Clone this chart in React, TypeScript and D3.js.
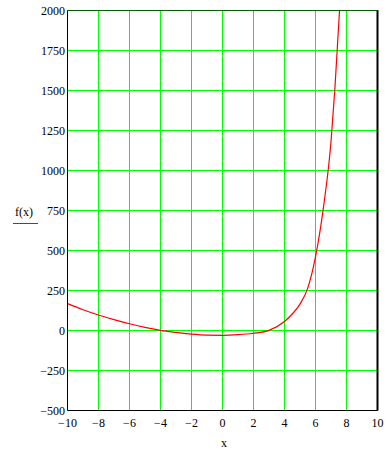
import React from "react";
import * as d3 from "d3";

const xValues = [-10, -9, -8, -7, -6, -5, -4, -3, -2, -1, 0, 1, 2, 3, 4, 4.5, 5, 5.5, 6, 6.5, 7, 7.25, 7.55];
const fValues = [168, 130, 97, 68, 42, 20, 1, -12, -23, -29, -30, -26, -17, 1, 56, 103, 165, 265, 460, 760, 1180, 1510, 2000];
const xTicks = [-10, -8, -6, -4, -2, 0, 2, 4, 6, 8, 10];
const yTicks = [-500, -250, 0, 250, 500, 750, 1000, 1250, 1500, 1750, 2000];

const W = 391, H = 456;
const L = 67.5, R = 377.5, T = 10.5, B = 410.5;

function fmt(v: number) {
  return v < 0 ? "\u2212" + Math.abs(v) : String(v);
}

export default function App() {
  const x = d3.scaleLinear().domain([-10, 10]).range([L, R]);
  const y = d3.scaleLinear().domain([-500, 2000]).range([B, T]);
  const pts: [number, number][] = xValues.map((v, i) => [v, fValues[i]]);
  const line = d3.line<[number, number]>().x(d => x(d[0])).y(d => y(d[1])).curve(d3.curveMonotoneX);
  const font = "'Liberation Serif', 'Times New Roman', serif";
  return (
    <svg width={W} height={H} style={{ position: "absolute", left: 0, top: 0, background: "#fff" }}>
      <defs>
        <clipPath id="plot"><rect x={L} y={T - 1} width={R - L} height={B - T + 1} /></clipPath>
      </defs>
      <rect x={0} y={0} width={W} height={H} fill="#fff" />
      {xTicks.map(t => (
        <line key={"gx" + t} x1={x(t)} x2={x(t)} y1={T} y2={B} stroke="#00ff00" strokeWidth={1} />
      ))}
      {yTicks.map(t => (
        <line key={"gy" + t} x1={L} x2={R} y1={y(t)} y2={y(t)} stroke="#00ff00" strokeWidth={1} />
      ))}
      <path d={line(pts) || ""} fill="none" stroke="#ff0000" strokeWidth={1.2} clipPath="url(#plot)" />
      <line x1={L} x2={L} y1={T} y2={B} stroke="#000" strokeWidth={1} />
      <line x1={L} x2={R} y1={B} y2={B} stroke="#000" strokeWidth={1} />
      <line x1={R} x2={R} y1={T} y2={B} stroke="#000" strokeWidth={2} />
      <line x1={L} x2={R + 1} y1={T} y2={T} stroke="#000" strokeWidth={1} opacity={0.6} />
      {yTicks.map(t => (
        <text key={"ty" + t} x={65} y={y(t) + 4.5} textAnchor="end" fontFamily={font} fontSize={12} fill="#000">{fmt(t)}</text>
      ))}
      {xTicks.map(t => (
        <text key={"tx" + t} x={x(t)} y={427} textAnchor="middle" fontFamily={font} fontSize={12} fill="#000">{fmt(t)}</text>
      ))}
      <text x={224} y={447} textAnchor="middle" fontFamily={font} fontSize={12} fill="#000">x</text>
      <text x={24} y={216} textAnchor="middle" fontFamily={font} fontSize={12} fill="#000">f(x)</text>
      <line x1={13} x2={38} y1={223.5} y2={223.5} stroke="#ff0000" strokeWidth={1} />
    </svg>
  );
}
